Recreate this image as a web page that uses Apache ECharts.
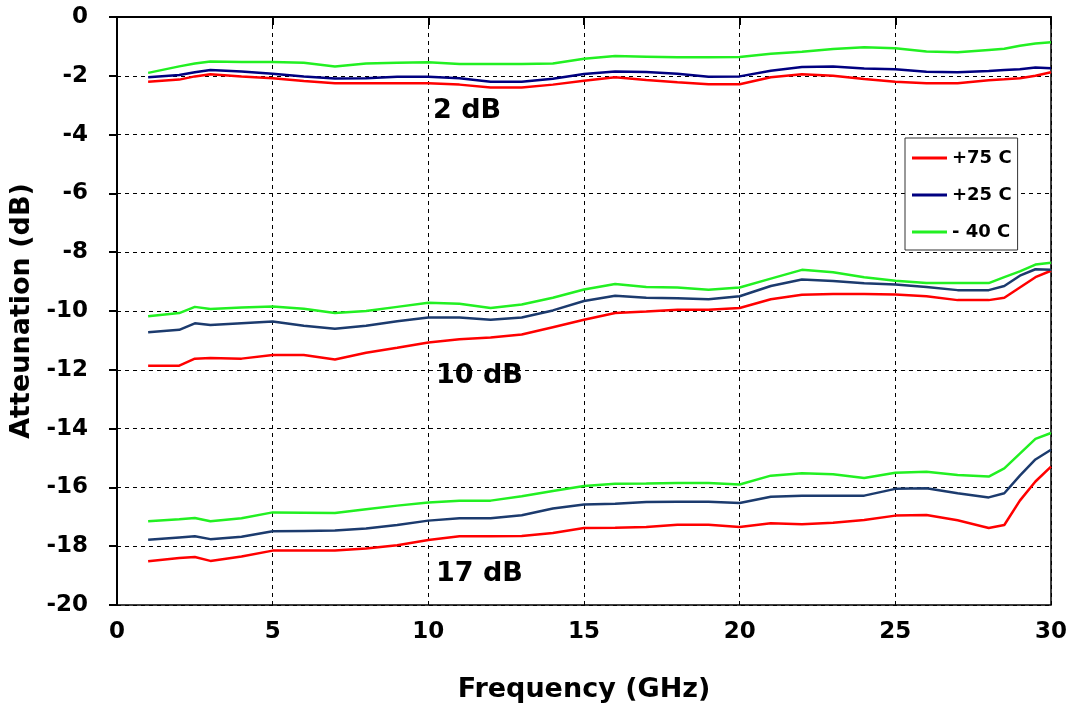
<!DOCTYPE html>
<html>
<head>
<meta charset="utf-8">
<script src="https://cdn.jsdelivr.net/npm/echarts@6/dist/echarts.min.js"></script>
<style>
html,body{margin:0;padding:0;background:#fff;}
#chart{width:1076px;height:711px;}
</style>
</head>
<body>
<div id="chart"></div>
<script>
// Frequency points (GHz)
var freq = [1,2,2.5,3,4,5,6,7,8,9,10,11,12,13,14,15,16,17,18,19,20,21,22,23,24,25,26,27,28,28.5,29,29.5,30];

// 2 dB attenuator
var att2_p75 = [-2.20,-2.13,-2.02,-1.95,-2.02,-2.08,-2.18,-2.25,-2.25,-2.25,-2.25,-2.30,-2.40,-2.40,-2.30,-2.17,-2.05,-2.14,-2.22,-2.29,-2.29,-2.05,-1.95,-2.00,-2.11,-2.20,-2.25,-2.25,-2.15,-2.12,-2.08,-2.00,-1.88];
var att2_p25 = [-2.05,-1.97,-1.88,-1.80,-1.85,-1.93,-2.02,-2.09,-2.08,-2.03,-2.03,-2.08,-2.20,-2.20,-2.10,-1.94,-1.85,-1.87,-1.93,-2.03,-2.02,-1.83,-1.70,-1.68,-1.75,-1.78,-1.86,-1.88,-1.84,-1.80,-1.78,-1.72,-1.74];
var att2_m40 = [-1.90,-1.68,-1.58,-1.51,-1.53,-1.53,-1.56,-1.68,-1.58,-1.56,-1.54,-1.60,-1.60,-1.60,-1.58,-1.42,-1.33,-1.35,-1.37,-1.37,-1.36,-1.25,-1.18,-1.09,-1.03,-1.06,-1.17,-1.20,-1.12,-1.08,-0.98,-0.90,-0.86];

// 10 dB attenuator
var att10_p75 = [-11.86,-11.86,-11.62,-11.60,-11.62,-11.50,-11.50,-11.65,-11.42,-11.25,-11.07,-10.96,-10.90,-10.80,-10.55,-10.30,-10.07,-10.02,-9.96,-9.96,-9.90,-9.60,-9.45,-9.42,-9.42,-9.44,-9.50,-9.63,-9.63,-9.55,-9.20,-8.85,-8.63];
var att10_p25 = [-10.72,-10.64,-10.42,-10.48,-10.42,-10.36,-10.50,-10.60,-10.50,-10.35,-10.22,-10.22,-10.30,-10.22,-9.98,-9.66,-9.48,-9.55,-9.57,-9.60,-9.50,-9.15,-8.93,-8.98,-9.06,-9.10,-9.18,-9.29,-9.29,-9.15,-8.80,-8.58,-8.60];
var att10_m40 = [-10.18,-10.07,-9.86,-9.93,-9.88,-9.85,-9.92,-10.07,-10.00,-9.86,-9.72,-9.75,-9.90,-9.78,-9.55,-9.27,-9.08,-9.18,-9.20,-9.28,-9.20,-8.90,-8.60,-8.68,-8.85,-8.97,-9.05,-9.05,-9.05,-8.85,-8.65,-8.42,-8.36];

// 17 dB attenuator
var att17_p75 = [-18.51,-18.40,-18.37,-18.50,-18.35,-18.15,-18.15,-18.15,-18.08,-17.97,-17.79,-17.66,-17.66,-17.65,-17.55,-17.38,-17.37,-17.35,-17.27,-17.27,-17.35,-17.22,-17.25,-17.20,-17.11,-16.96,-16.94,-17.12,-17.38,-17.28,-16.45,-15.80,-15.29];
var att17_p25 = [-17.78,-17.70,-17.66,-17.76,-17.68,-17.49,-17.48,-17.47,-17.40,-17.28,-17.13,-17.05,-17.05,-16.95,-16.72,-16.58,-16.56,-16.50,-16.49,-16.49,-16.53,-16.32,-16.28,-16.28,-16.28,-16.05,-16.03,-16.20,-16.34,-16.20,-15.60,-15.05,-14.72];
var att17_m40 = [-17.15,-17.08,-17.04,-17.15,-17.05,-16.85,-16.86,-16.87,-16.74,-16.62,-16.51,-16.45,-16.45,-16.30,-16.12,-15.95,-15.88,-15.87,-15.85,-15.85,-15.90,-15.60,-15.52,-15.55,-15.68,-15.50,-15.47,-15.58,-15.63,-15.35,-14.85,-14.35,-14.15];

var seriesNames = ['+75 C', '+25 C', '- 40 C'];
var xTicks = [0, 5, 10, 15, 20, 25, 30];
var yTicks = [0, -2, -4, -6, -8, -10, -12, -14, -16, -18, -20];
var groupLabels = ['2 dB', '10 dB', '17 dB'];

var FONT = '"DejaVu Sans", Arial, sans-serif';
var RED = '#ff0000', NAVY = '#000080', SLATE = '#1c3b6e', GREEN = '#22f022';

function pairs(arr) { return freq.map(function (f, i) { return [f, arr[i]]; }); }
function mk(name, arr, color) {
  return {
    name: name, type: 'line', data: pairs(arr), symbol: 'none', smooth: false,
    lineStyle: { color: color, width: 2.5 }, itemStyle: { color: color },
    animation: false
  };
}

var chart = echarts.init(document.getElementById('chart'), null, { renderer: 'canvas' });
var option = {
  backgroundColor: '#ffffff',
  animation: false,
  grid: { left: 117, top: 17, right: 25, bottom: 106, show: true, borderColor: '#000', borderWidth: 1.5, backgroundColor: 'transparent' },
  legend: {
    data: seriesNames,
    orient: 'vertical',
    left: 905, top: 138,
    padding: [10, 6, 8, 7],
    itemGap: 17,
    icon: 'rect',
    itemWidth: 35, itemHeight: 3,
    backgroundColor: '#fff',
    borderColor: '#333', borderWidth: 1,
    textStyle: { fontFamily: FONT, fontWeight: 'bold', fontSize: 18, color: '#000', lineHeight: 20 }
  },
  xAxis: {
    type: 'value', min: 0, max: 30, interval: 5,
    name: 'Frequency (GHz)', nameLocation: 'middle', nameGap: 71,
    nameTextStyle: { fontFamily: FONT, fontWeight: 'bold', fontSize: 27, color: '#000' },
    axisLine: { show: true, lineStyle: { color: '#000', width: 2 } },
    axisTick: { show: true, inside: false, length: 8, lineStyle: { color: '#000', width: 2 } },
    axisLabel: { fontFamily: FONT, fontWeight: 'bold', fontSize: 23, color: '#000', margin: 16,
      formatter: function (v) { return xTicks.indexOf(v) >= 0 ? String(v) : ''; } },
    splitLine: { show: true, lineStyle: { color: '#000', width: 1, type: [4, 4] } }
  },
  yAxis: {
    type: 'value', min: -20, max: 0, interval: 2,
    name: 'Atteunation (dB)', nameLocation: 'middle', nameGap: 72,
    nameTextStyle: { fontFamily: FONT, fontWeight: 'bold', fontSize: 27, color: '#000' },
    axisLine: { show: true, lineStyle: { color: '#000', width: 2 } },
    axisTick: { show: true, inside: false, length: 8, lineStyle: { color: '#000', width: 2 } },
    axisLabel: { fontFamily: FONT, fontWeight: 'bold', fontSize: 23, color: '#000', margin: 29,
      formatter: function (v) { return yTicks.indexOf(v) >= 0 ? String(v) : ''; } },
    splitLine: { show: true, lineStyle: { color: '#000', width: 1, type: [4, 4] } }
  },
  graphic: [
    { type: 'text', left: 433, top: 97, style: { text: groupLabels[0], font: 'bold 27px "DejaVu Sans", Arial, sans-serif', fill: '#000' } },
    { type: 'text', left: 436, top: 362, style: { text: groupLabels[1], font: 'bold 27px "DejaVu Sans", Arial, sans-serif', fill: '#000' } },
    { type: 'text', left: 436, top: 560, style: { text: groupLabels[2], font: 'bold 27px "DejaVu Sans", Arial, sans-serif', fill: '#000' } }
  ],
  series: [
    mk(seriesNames[0], att2_p75, RED),
    mk(seriesNames[1], att2_p25, NAVY),
    mk(seriesNames[2], att2_m40, GREEN),
    mk(seriesNames[0], att10_p75, RED),
    mk(seriesNames[1], att10_p25, SLATE),
    mk(seriesNames[2], att10_m40, GREEN),
    mk(seriesNames[0], att17_p75, RED),
    mk(seriesNames[1], att17_p25, SLATE),
    mk(seriesNames[2], att17_m40, GREEN)
  ]
};
chart.setOption(option);
</script>
</body>
</html>
